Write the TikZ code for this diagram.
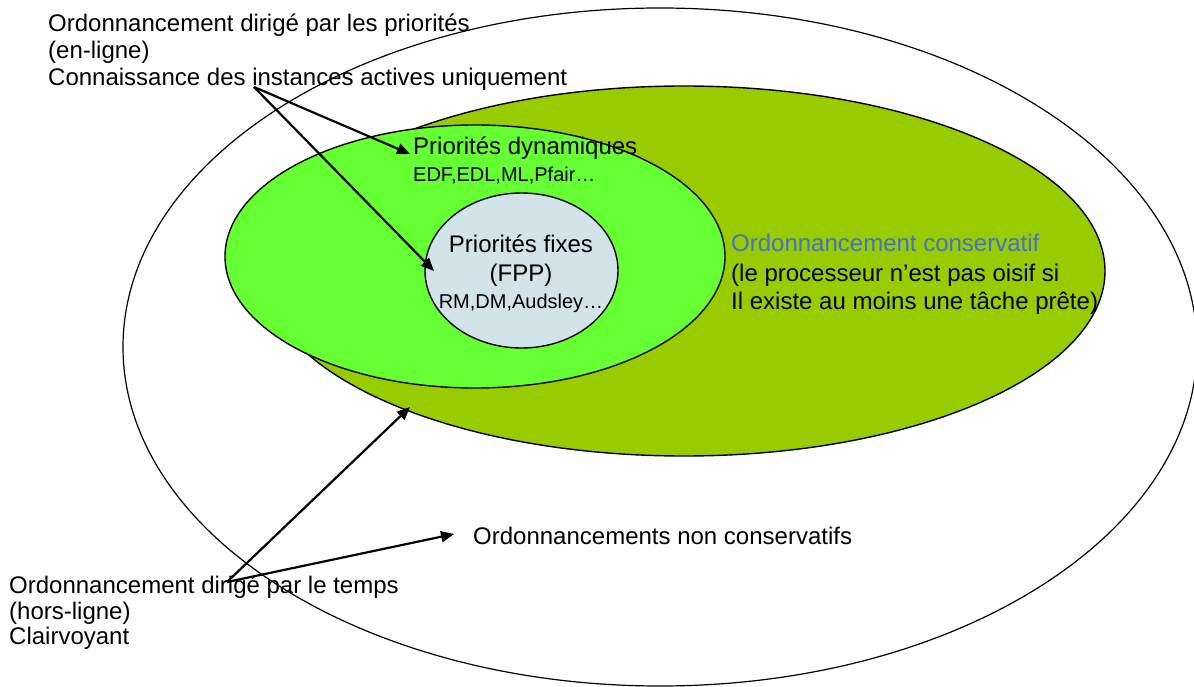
\documentclass[tikz,border=0pt]{standalone}
\usepackage{fontspec}
\setmainfont{Liberation Sans}
\usetikzlibrary{shapes.geometric,arrows.meta}
\definecolor{olivezone}{RGB}{153,204,0}
\definecolor{greenzone}{RGB}{102,255,51}
\definecolor{bluezone}{RGB}{210,228,234}
\definecolor{titleblue}{RGB}{68,114,196}
\begin{document}
\begin{tikzpicture}[x=1pt,y=-1pt,
  zone/.style={ellipse, draw=black, line width=1.4pt, inner sep=0pt},
  big/.style={font=\fontsize{24}{28}\selectfont, inner sep=0pt, anchor=base west},
  small/.style={font=\fontsize{20}{24}\selectfont, inner sep=0pt, anchor=base west},
  link/.style={line width=2.2pt, -{Triangle[length=13pt,width=11pt]}}]
\useasboundingbox (0,0) rectangle (1194,687);
\fill[white] (0,0) rectangle (1194,687);
% zones
\node[zone, line width=1.2pt, fill=white, minimum width=1074pt, minimum height=678pt] (outer) at (660,347) {};
\node[zone, fill=olivezone, minimum width=842pt, minimum height=370pt] (cons) at (684,271) {};
\node[zone, fill=greenzone, minimum width=500pt, minimum height=263pt] (dyn) at (475,256.5) {};
\node[zone, fill=bluezone, minimum width=193pt, minimum height=155pt] (fix) at (521.5,270.5) {};
% texts
\node[big] (p1) at (48,31.5) {Ordonnancement dirigé par les priorités};
\node[big] (p2) at (48,58.5) {(en-ligne)};
\node[big] (p3) at (48,85.5) {Connaissance des instances actives uniquement};
\node[big] (d1) at (413,155) {Priorités dynamiques};
\node[small] (d2) at (413,182) {EDF,EDL,ML,Pfair…};
\node[big, anchor=base] (f1) at (521,252.7) {Priorités fixes};
\node[big, anchor=base] (f2) at (521,281.7) {(FPP)};
\node[small, anchor=base] (f3) at (521,308.3) {RM,DM,Audsley…};
\node[big, text=titleblue] (c1) at (731,251.7) {Ordonnancement conservatif};
\node[big] (c2) at (731,281.7) {(le processeur n’est pas oisif si};
\node[big] (c3) at (731,309.3) {Il existe au moins une tâche prête)};
\node[big] (n1) at (473,544) {Ordonnancements non conservatifs};
\node[big] (t1) at (9,593) {Ordonnancement dirigé par le temps};
\node[big] (t2) at (9,619) {(hors-ligne)};
\node[big] (t3) at (9,644.5) {Clairvoyant};
% connectors
\coordinate (srcP) at (254,87);
\coordinate (srcT) at (227,582);
\coordinate (tipD) at (410,154);
\coordinate (tipF) at (434,271);
\coordinate (tipC) at (410,407);
\coordinate (tipN) at (454,534);
\draw[link] (srcP) -- (tipD);
\draw[link] (srcP) -- (tipF);
\draw[link] (srcT) -- (tipC);
\draw[link] (srcT) -- (tipN);
\end{tikzpicture}
\end{document}
